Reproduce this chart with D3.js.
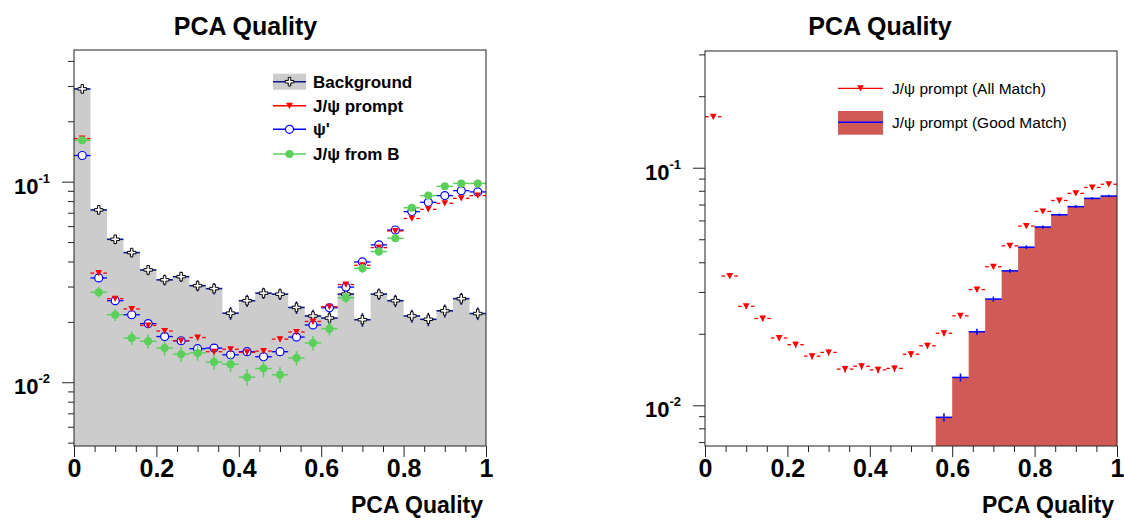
<!DOCTYPE html>
<html><head><meta charset="utf-8">
<script src="https://cdn.jsdelivr.net/npm/d3@7"></script>
<style>
body{margin:0;background:#fff}
svg{display:block}
text{font-family:"Liberation Sans",Arial,Helvetica,sans-serif;fill:#000}
</style>
</head><body>
<svg id="c" width="1124" height="521"></svg>
<script>
// ---------------- data ----------------
const binCenters = [0.02,0.06,0.10,0.14,0.18,0.22,0.26,0.30,0.34,0.38,0.42,0.46,0.50,0.54,0.58,0.62,0.66,0.70,0.74,0.78,0.82,0.86,0.90,0.94,0.98];
const binWidth = 0.04;

const background    = [0.290,0.0723,0.0516,0.0443,0.0363,0.0324,0.0336,0.0303,0.0293,0.0221,0.0255,0.0278,0.0275,0.0236,0.0214,0.0209,0.0275,0.0205,0.0275,0.0255,0.0214,0.0206,0.0227,0.0261,0.0220];
const backgroundErr = [0.0060,0.0030,0.0025,0.0023,0.0021,0.0020,0.0020,0.0019,0.0019,0.00165,0.0018,0.0018,0.0018,0.0017,0.0016,0.0016,0.0018,0.0016,0.0018,0.0018,0.0016,0.0016,0.0017,0.0018,0.0016];

const jpsiPrompt    = [0.164,0.0350,0.0261,0.0232,0.0192,0.0180,0.0161,0.0167,0.0142,0.0146,0.0141,0.0143,0.0164,0.0178,0.0201,0.0238,0.0307,0.0383,0.0469,0.0568,0.0655,0.0728,0.0780,0.0826,0.0852];
const jpsiPromptErr = [0.0016,0.00075,0.00065,0.0006,0.00055,0.00054,0.0005,0.00052,0.00048,0.00048,0.00047,0.00048,0.00051,0.00053,0.00057,0.00062,0.0007,0.00078,0.00087,0.00095,0.0010,0.0011,0.0011,0.00115,0.00117];

const psiPrime      = [0.135,0.0331,0.0255,0.0217,0.0196,0.0169,0.0161,0.0147,0.0148,0.0137,0.0142,0.0134,0.0142,0.0168,0.0193,0.0235,0.0298,0.0398,0.0484,0.0574,0.0709,0.0789,0.0852,0.0902,0.0889];
const psiPrimeErr   = [0.0020,0.0010,0.00088,0.00081,0.00077,0.00072,0.0007,0.00067,0.00067,0.00064,0.00066,0.00064,0.00066,0.00071,0.00076,0.00084,0.00095,0.0011,0.0012,0.0013,0.00146,0.00154,0.0016,0.00165,0.00164];

const jpsiFromB     = [0.161,0.0281,0.0217,0.0166,0.0160,0.0148,0.0138,0.0140,0.0126,0.0123,0.0106,0.0117,0.0109,0.0132,0.0157,0.0185,0.0264,0.0370,0.0448,0.0522,0.0741,0.0852,0.0948,0.0980,0.0980];
const jpsiFromBErr  = [0.0040,0.0017,0.0015,0.0013,0.0013,0.0012,0.0012,0.0012,0.0011,0.0011,0.0010,0.0011,0.0010,0.0011,0.0013,0.0014,0.0016,0.0019,0.0021,0.0023,0.0027,0.0029,0.0031,0.0031,0.0031];

const goodMatch     = [0,0,0,0,0,0,0,0,0,0,0,0,0,0,0.0089,0.0131,0.0204,0.0280,0.0368,0.0463,0.0563,0.0634,0.0686,0.0743,0.0760];
const goodMatchErr  = [0,0,0,0,0,0,0,0,0,0,0,0,0,0,0.00035,0.0005,0.0006,0.0007,0.0007,0.0008,0.0008,0.0008,0.0009,0.0009,0.0009];

const xMajorTicks = [0,0.2,0.4,0.6,0.8,1];
const xTickLabels = ["0","0.2","0.4","0.6","0.8","1"];
const xMinorTicks = [0.05,0.1,0.15,0.25,0.3,0.35,0.45,0.5,0.55,0.65,0.7,0.75,0.85,0.9,0.95];
const yMajorTicks = [0.01,0.1];
const yTickLabels = [["10","-2"],["10","-1"]];

const panelTitle = "PCA Quality";
const axisTitle = "PCA Quality";
const leftLegend = ["Background","J/\u03c8 prompt","\u03c8'","J/\u03c8 from B"];
const rightLegend = ["J/\u03c8 prompt (All Match)","J/\u03c8 prompt (Good Match)"];

// ---------------- styles ----------------
const C = {gray:"#cccccc", navy:"#0c1890", red:"#ff0000", blue:"#0000ff", green:"#5ad05a", fill:"#d25a56"};

const svg = d3.select("#c");

function minorLog(domain){
  const out=[];
  for(let k=-4;k<=1;k++) for(let m=2;m<=9;m++){
    const v=m*Math.pow(10,k);
    if(v>=domain[0]&&v<=domain[1]) out.push(v);
  }
  return out;
}

function makePanel(o){
  const g = svg.append("g");
  const x = d3.scaleLinear().domain([0,1]).range([o.x0,o.x1]);
  const y = d3.scaleLog().domain(o.yDomain).range([o.y1,o.y0]);
  const clip = "clip"+o.id;
  svg.append("clipPath").attr("id",clip).append("rect")
    .attr("x",o.x0).attr("y",o.y0).attr("width",o.x1-o.x0).attr("height",o.y1-o.y0);
  const plot = g.append("g").attr("clip-path","url(#"+clip+")");

  const xaMinor = d3.axisBottom(x).tickValues(xMinorTicks).tickSize(6).tickFormat("");
  const xaMajor = d3.axisBottom(x).tickValues(xMajorTicks).tickSize(11).tickFormat((d,i)=>xTickLabels[i]);
  g.append("g").attr("transform",`translate(0,${o.y1})`).call(xaMinor).call(s=>s.select(".domain").remove());
  const gx = g.append("g").attr("transform",`translate(0,${o.y1})`).call(xaMajor).call(s=>s.select(".domain").remove());
  gx.selectAll("text").attr("y",31).attr("dy",0).style("font-size","25px").style("font-weight","bold").style("font-family","'Liberation Sans',Arial,sans-serif").attr("fill","#000");

  const yaMinor = d3.axisLeft(y).tickValues(minorLog(o.yDomain)).tickSize(6).tickFormat("");
  const yaMajor = d3.axisLeft(y).tickValues(yMajorTicks).tickSize(12).tickFormat("");
  g.append("g").attr("transform",`translate(${o.x0},0)`).call(yaMinor).call(s=>s.select(".domain").remove());
  const gy = g.append("g").attr("transform",`translate(${o.x0},0)`).call(yaMajor).call(s=>s.select(".domain").remove());
  gy.selectAll(".tick").each(function(d,i){
    const t = d3.select(this).append("text").attr("x",-24).attr("y",11.6).attr("text-anchor","end")
      .attr("fill","#000").style("font-family","'Liberation Sans',Arial,sans-serif").style("font-weight","bold");
    t.append("tspan").style("font-size","22px").text(yTickLabels[i][0]);
    t.append("tspan").style("font-size","13px").attr("dy",-11).text(yTickLabels[i][1]);
  });
  g.selectAll(".tick line").attr("stroke","#222").attr("stroke-width",1);

  g.append("text").attr("x",o.titleX).attr("y",35).attr("text-anchor","middle")
    .style("font-size","25px").style("font-weight","bold").text(panelTitle);
  g.append("text").attr("x",o.x1-3).attr("y",513).attr("text-anchor","end")
    .style("font-size","23px").style("font-weight","bold").text(axisTitle);

  return {g,plot,x,y};
}

function hbar(p,xs,yv,cx,gap,color,w){
  const xl=p.x(xs-binWidth/2), xr=p.x(xs+binWidth/2);
  if(gap>0){
    p.plot.append("line").attr("x1",xl).attr("x2",cx-gap).attr("y1",yv).attr("y2",yv).attr("stroke",color).attr("stroke-width",w);
    p.plot.append("line").attr("x1",cx+gap).attr("x2",xr).attr("y1",yv).attr("y2",yv).attr("stroke",color).attr("stroke-width",w);
  } else {
    p.plot.append("line").attr("x1",xl).attr("x2",xr).attr("y1",yv).attr("y2",yv).attr("stroke",color).attr("stroke-width",w);
  }
}
function vbar(p,cx,v,e,color,w){
  p.plot.append("line").attr("x1",cx).attr("x2",cx).attr("y1",p.y(v+e)).attr("y2",p.y(Math.max(v-e,1e-6))).attr("stroke",color).attr("stroke-width",w);
}
function crossPath(cx,cy,s,a){
  return `M${cx-a},${cy-s}H${cx+a}V${cy-a}H${cx+s}V${cy+a}H${cx+a}V${cy+s}H${cx-a}V${cy+a}H${cx-s}V${cy-a}H${cx-a}Z`;
}
function marker(sel,type,cx,cy,color){
  if(type==="cross"){
    sel.append("path").attr("d",crossPath(cx,cy,4.3,1.25)).attr("fill","#fff").attr("stroke","#000").attr("stroke-width",1);
  } else if(type==="tri"){
    sel.append("path").attr("d",`M${cx-3.4},${cy-3}L${cx+3.4},${cy-3}L${cx},${cy+3.2}Z`).attr("fill",color);
  } else if(type==="open"){
    sel.append("circle").attr("cx",cx).attr("cy",cy).attr("r",4).attr("fill","#fff").attr("stroke",color).attr("stroke-width",1.2);
  } else if(type==="full"){
    sel.append("circle").attr("cx",cx).attr("cy",cy).attr("r",4).attr("fill",color);
  }
}
function drawSeries(p,vals,errs,type,color,gap,w){
  vals.forEach((v,i)=>{
    if(!(v>0)) return;
    const xs=binCenters[i], cx=p.x(xs), cy=p.y(v);
    vbar(p,cx,v,errs[i],color,w);
    hbar(p,xs,cy,cx,gap,color,w);
    marker(p.plot,type,cx,cy,color);
  });
}
function stepPath(p,vals,bottom){
  let d="";
  let started=false;
  vals.forEach((v,i)=>{
    if(!(v>0)) return;
    const xl=p.x(binCenters[i]-binWidth/2), xr=p.x(binCenters[i]+binWidth/2), yv=p.y(v);
    if(!started){ d+=`M${xl},${bottom}V${yv}`; started=true; } else { d+=`H${xl}V${yv}`; }
    d+=`H${xr}`;
    if(i===vals.length-1) d+=`V${bottom}Z`;
  });
  return d;
}
function frame(p,o){
  p.g.append("rect").attr("x",o.x0).attr("y",o.y0).attr("width",o.x1-o.x0).attr("height",o.y1-o.y0)
    .attr("fill","none").attr("stroke","#222").attr("stroke-width",1);
}

// ---------------- left panel ----------------
const L = {id:"L",x0:74,x1:486,y0:50,y1:446,yDomain:[0.00481,0.4533],titleX:245.5};
const pL = makePanel(L);
pL.plot.append("path").attr("d",stepPath(pL,background,L.y1)).attr("fill",C.gray);
drawSeries(pL,background,backgroundErr,"cross",C.navy,0,1.6);
drawSeries(pL,psiPrime,psiPrimeErr,"open",C.blue,4,1.3);
drawSeries(pL,jpsiPrompt,jpsiPromptErr,"tri",C.red,4.6,1.3);
drawSeries(pL,jpsiFromB,jpsiFromBErr,"full",C.green,0,1.5);
frame(pL,L);

// left legend
const lg = svg.append("g");
const lx0=273, lx1=306, ltx=313, lrows=[81.7,105.7,129.3,154];
lg.append("rect").attr("x",lx0).attr("y",lrows[0]-8).attr("width",lx1-lx0).attr("height",16).attr("fill",C.gray);
const lcols=[C.navy,C.red,C.blue,C.green], ltypes=["cross","tri","open","full"];
lrows.forEach((ry,i)=>{
  lg.append("line").attr("x1",lx0).attr("x2",lx1).attr("y1",ry).attr("y2",ry).attr("stroke",lcols[i]).attr("stroke-width",1.5);
  marker(lg,ltypes[i],(lx0+lx1)/2,ry,lcols[i]);
  lg.append("text").attr("x",ltx).attr("y",ry).attr("dy","0.36em").style("font-size","17px").style("font-weight","bold").text(leftLegend[i]);
});

// ---------------- right panel ----------------
const R = {id:"R",x0:705,x1:1117,y0:51,y1:446,yDomain:[0.00674,0.31],titleX:880};
const pR = makePanel(R);
pR.plot.append("path").attr("d",stepPath(pR,goodMatch,R.y1)).attr("fill",C.fill);
goodMatch.forEach((v,i)=>{
  if(!(v>0)) return;
  const xs=binCenters[i], cx=pR.x(xs), cy=pR.y(v);
  hbar(pR,xs,cy,cx,0,C.blue,1.5);
  vbar(pR,cx,v,goodMatchErr[i],C.blue,1.5);
});
drawSeries(pR,jpsiPrompt,jpsiPromptErr,"tri",C.red,4.6,1.3);
frame(pR,R);

// right legend
const rg = svg.append("g");
const rx0=838, rx1=883, rtx=892;
rg.append("line").attr("x1",rx0).attr("x2",rx1).attr("y1",88.3).attr("y2",88.3).attr("stroke",C.red).attr("stroke-width",1.3);
marker(rg,"tri",(rx0+rx1)/2,88.3,C.red);
rg.append("text").attr("x",rtx).attr("y",88.3).attr("dy","0.36em").style("font-size","15.5px").text(rightLegend[0]);
rg.append("rect").attr("x",rx0).attr("y",111).attr("width",rx1-rx0).attr("height",23.7).attr("fill",C.fill);
rg.append("line").attr("x1",rx0).attr("x2",rx1).attr("y1",122.3).attr("y2",122.3).attr("stroke",C.blue).attr("stroke-width",1.5);
rg.append("text").attr("x",rtx).attr("y",122.3).attr("dy","0.36em").style("font-size","15.5px").text(rightLegend[1]);
</script>
</body></html>
